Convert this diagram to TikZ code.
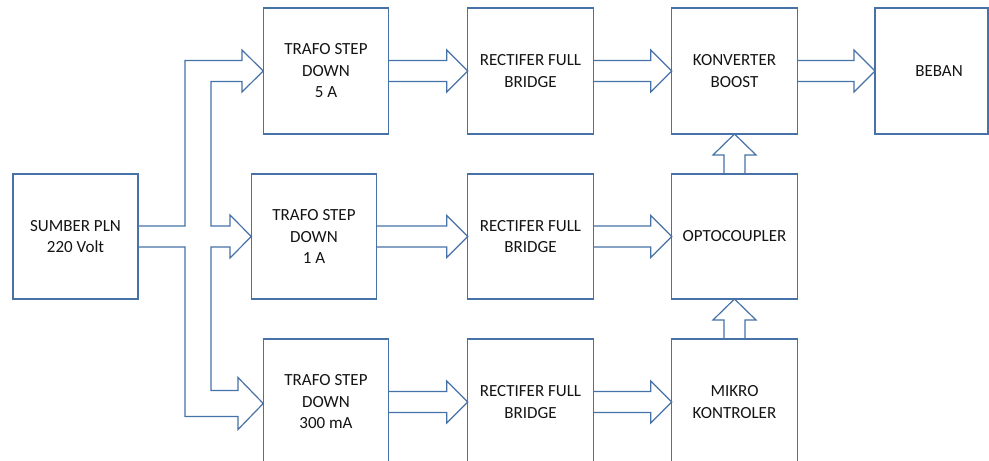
\documentclass[tikz,border=0pt]{standalone}
\usepackage{fontspec}
\setmainfont{Carlito}
\usetikzlibrary{calc}
\definecolor{ln}{RGB}{70,114,168}
\definecolor{tx}{RGB}{20,20,20}
\tikzset{
  blk/.style={draw=ln, line width=1.2bp, minimum width=125.5bp, minimum height=126bp,
    inner sep=0pt, outer sep=0pt, align=center, text=tx,
    font=\fontsize{17bp}{21.5bp}\selectfont},
  fat/.style={draw=ln, line width=1.2bp, line join=miter}
}
\newcommand{\hblock}[2]{\draw[fat] ($(#1.east)+(0,-10.5)$) -- ($(#2.west)+(-21,-10.5)$) -- ($(#2.west)+(-21,-21)$) -- (#2.west) -- ($(#2.west)+(-21,21)$) -- ($(#2.west)+(-21,10.5)$) -- ($(#1.east)+(0,10.5)$);}
\newcommand{\vblock}[2]{\draw[fat] ($(#1.north)+(-10.5,0)$) -- ($(#2.south)+(-10.5,21)$) -- ($(#2.south)+(-21.5,21)$) -- (#2.south) -- ($(#2.south)+(21.5,21)$) -- ($(#2.south)+(10.5,21)$) -- ($(#1.north)+(10.5,0)$);}
\begin{document}
\begin{tikzpicture}[x=1bp,y=-1bp]
\clip (0,0) rectangle (989,461);
\fill[white] (0,0) rectangle (989,461);
% nodes
\node[blk, minimum width=125bp, minimum height=125bp] (sumber) at (75.5,236.5) {SUMBER PLN\\220 Volt};
\node[blk] (trafoA) at (326,71) {TRAFO STEP\\DOWN\\5 A};
\node[blk, minimum height=125bp] (trafoB) at (314,236.5) {TRAFO STEP\\DOWN\\1 A};
\node[blk] (trafoC) at (326,402) {TRAFO STEP\\DOWN\\300 mA};
\node[blk] (rectA) at (530.5,71) {RECTIFER FULL\\BRIDGE};
\node[blk, minimum height=125bp] (rectB) at (530.5,236.5) {RECTIFER FULL\\BRIDGE};
\node[blk] (rectC) at (530.5,402) {RECTIFER FULL\\BRIDGE};
\node[blk] (konv) at (734.5,71) {KONVERTER\\BOOST};
\node[blk, minimum height=125bp] (opto) at (734.5,236.5) {OPTOCOUPLER};
\node[blk] (mikro) at (734.5,402) {MIKRO\\KONTROLER};
\node[blk, minimum width=113bp, label={[xshift=7.5bp, text=tx, font=\fontsize{17bp}{21.5bp}\selectfont]center:BEBAN}] (beban) at (931.5,71) {};
% branching fat arrow from source
\draw[fat] ($(sumber.east)+(0,-10.5)$) -- (185,226) -- (185,60.5) -- (242,60.5) -- (242,50) -- (trafoA.west)
  -- (242,92) -- (242,81.5) -- (211,81.5) -- (211,226) -- (230,226) -- (230,215) -- (trafoB.west)
  -- (230,258) -- (230,247) -- (211,247) -- (211,390.5) -- (238,390.5) -- (238,377.5) -- ($(trafoC.west)+(0,1.5)$)
  -- (238,429.5) -- (238,416.5) -- (185,416.5) -- (185,247) -- ($(sumber.east)+(0,10.5)$);
% row arrows
\hblock{trafoA}{rectA}
\hblock{rectA}{konv}
\hblock{konv}{beban}
\hblock{trafoB}{rectB}
\hblock{rectB}{opto}
\hblock{trafoC}{rectC}
\hblock{rectC}{mikro}
% vertical arrows
\vblock{opto}{konv}
\vblock{mikro}{opto}
\end{tikzpicture}
\end{document}
